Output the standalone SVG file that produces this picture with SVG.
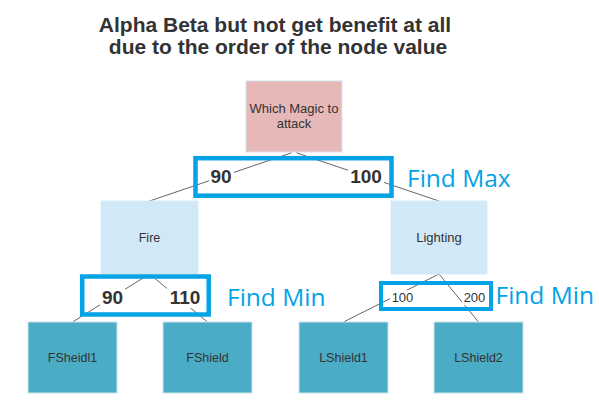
<svg xmlns="http://www.w3.org/2000/svg" width="599" height="411" viewBox="0 0 599 411">
<style>
.title{font-family:"Liberation Sans",Arial,sans-serif;font-weight:bold;font-size:21px;fill:#333333;text-anchor:middle}
.nt{font-family:"Liberation Sans",Arial,sans-serif;font-size:12.5px;fill:#333333;text-anchor:middle}
.edge{stroke:#666666;stroke-width:1;fill:none}
.lbg{fill:#ffffff}
.lb{font-family:"Liberation Sans",Arial,sans-serif;font-weight:bold;font-size:19px;fill:#333333;text-anchor:middle}
.ls{font-family:"Liberation Sans",Arial,sans-serif;font-size:13px;fill:#333333;text-anchor:middle}
.hl{fill:none;stroke:#03a3e6}
.find{font-family:"Segoe UI","Open Sans",sans-serif;font-size:24.5px;fill:#03a3e6}
.root{fill:#e6b8b7;stroke:#d6e4ef;stroke-width:1}
.mid{fill:#d1e8f6;stroke:#d9ecf8;stroke-width:1}
.leaf{fill:#4bacc6;stroke:#c9e4ee;stroke-width:1}
</style>
<rect width="599" height="411" fill="#ffffff"/>
<g id="title">
<text class="title" x="275" y="32">Alpha Beta but not get benefit at all</text>
<text class="title" x="278" y="53.5">due to the order of the node value</text>
</g>
<g id="connectors">
<path class="edge" d="M291,153 L149.5,201"/>
<path class="edge" d="M297,153 L439,201"/>
<path class="edge" d="M291,153 A3,2.5 0 0 1 297,153"/>
<path class="edge" d="M149.5,274 L72.5,322"/>
<path class="edge" d="M149.5,274 L207.5,322"/>
<path class="edge" d="M439,274 L343.5,322"/>
<path class="edge" d="M439,274 L478.5,322"/>
<rect class="lbg" x="209" y="167" width="25" height="20"/>
<text class="lb" x="221" y="183">90</text>
<rect class="lbg" x="348" y="167" width="36" height="20"/>
<text class="lb" x="366" y="183">100</text>
<rect class="lbg" x="100" y="288" width="25" height="20"/>
<text class="lb" x="112.5" y="304">90</text>
<rect class="lbg" x="167" y="288" width="36" height="20"/>
<text class="lb" x="185" y="304">110</text>
<rect class="lbg" x="390" y="290" width="25" height="15"/>
<text class="ls" x="402.5" y="302">100</text>
<rect class="lbg" x="462" y="290" width="25" height="15"/>
<text class="ls" x="474.5" y="302">200</text>
</g>
<g id="node-root">
<rect class="root" x="246" y="81" width="96" height="71"/>
<text class="nt" style="font-size:13px" x="294" y="113">Which Magic to</text>
<text class="nt" style="font-size:13px" x="294" y="128">attack</text>
</g>
<g id="node-fire">
<rect class="mid" x="101" y="201" width="97" height="73"/>
<text class="nt" x="149.5" y="242">Fire</text>
</g>
<g id="node-lighting">
<rect class="mid" x="391" y="201" width="96" height="73"/>
<text class="nt" style="font-size:13px" x="439" y="242">Lighting</text>
</g>
<g id="node-fsheidl1">
<rect class="leaf" x="28" y="322" width="89" height="71"/>
<text class="nt" x="72.5" y="362">FSheidl1</text>
</g>
<g id="node-fshield">
<rect class="leaf" x="163" y="322" width="89" height="71"/>
<text class="nt" x="207.5" y="362">FShield</text>
</g>
<g id="node-lshield1">
<rect class="leaf" x="299" y="322" width="89" height="71"/>
<text class="nt" x="343.5" y="362">LShield1</text>
</g>
<g id="node-lshield2">
<rect class="leaf" x="434" y="322" width="89" height="71"/>
<text class="nt" x="478.5" y="362">LShield2</text>
</g>
<g id="annotations">
<rect class="hl" x="195.5" y="158.2" width="196" height="37.5" stroke-width="4.5"/>
<text class="find" x="407" y="187">Find Max</text>
<rect class="hl" x="82.2" y="276.5" width="126.5" height="38" stroke-width="4.5"/>
<text class="find" x="227" y="306">Find Min</text>
<rect class="hl" x="381" y="283" width="110" height="26" stroke-width="4"/>
<text class="find" x="495.5" y="304">Find Min</text>
</g>
</svg>
